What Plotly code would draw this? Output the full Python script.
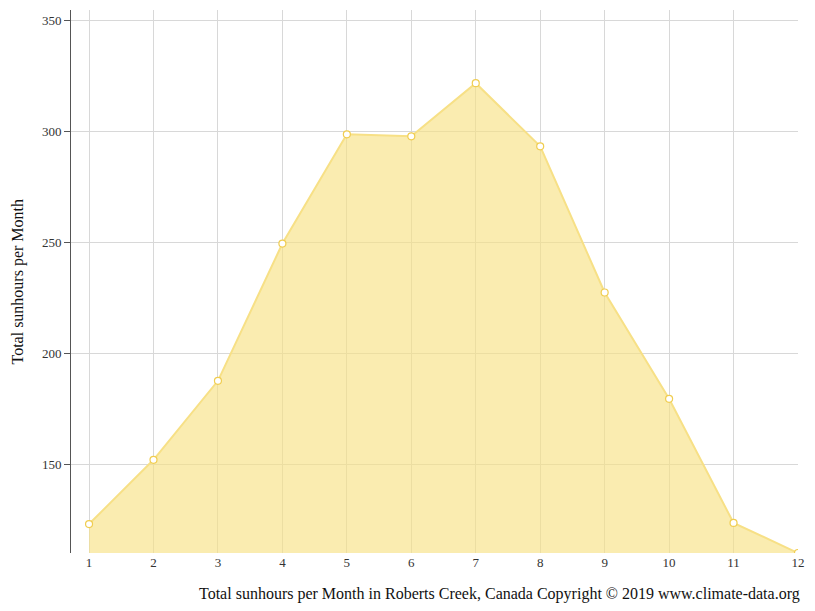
import plotly.graph_objects as go

# monthly sunshine hours, Roberts Creek
months = list(range(1, 13))
sunhours = [123.4, 152.3, 187.8, 249.5, 298.6, 297.7, 321.6, 293.2, 227.5, 179.7, 123.9, 110.4]

fig = go.Figure()
fig.add_trace(go.Scatter(
    x=months, y=sunhours,
    mode="lines+markers",
    fill="tozeroy",
    fillcolor="rgba(247,226,134,0.65)",
    line=dict(color="#f7e086", width=2),
    marker=dict(size=7, color="white", line=dict(color="#f0cd50", width=1.2)),
    hoverinfo="x+y",
))

fig.update_layout(
    width=799, height=595,
    margin=dict(l=63, r=9, t=2, b=50),
    plot_bgcolor="white", paper_bgcolor="white",
    font=dict(family="Liberation Serif", size=13, color="#333"),
    showlegend=False,
    xaxis=dict(
        range=[0.72, 12], tickvals=months,
        showgrid=True, gridcolor="#d8d8d8", zeroline=False,
        ticks="", showline=False,
    ),
    yaxis=dict(
        range=[110.4, 354.5], tickvals=[150, 200, 250, 300, 350],
        showgrid=True, gridcolor="#d8d8d8", zeroline=False,
        showline=True, linecolor="#555", linewidth=1,
        ticks="outside", ticklen=6, tickcolor="#555",
    ),
    annotations=[
        dict(text="Total sunhours per Month in Roberts Creek, Canada Copyright © 2019 www.climate-data.org",
             xref="paper", yref="paper", x=1, y=0, xanchor="right", yanchor="top",
             xshift=4, yshift=-30, showarrow=False, font=dict(size=16, color="#111")),
        dict(text="Total sunhours per Month", textangle=-90,
             xref="paper", yref="paper", x=0, y=0.5, xanchor="center", yanchor="middle",
             xshift=-54, showarrow=False, font=dict(size=16, color="#111")),
    ],
)

fig.write_html("out.html")
